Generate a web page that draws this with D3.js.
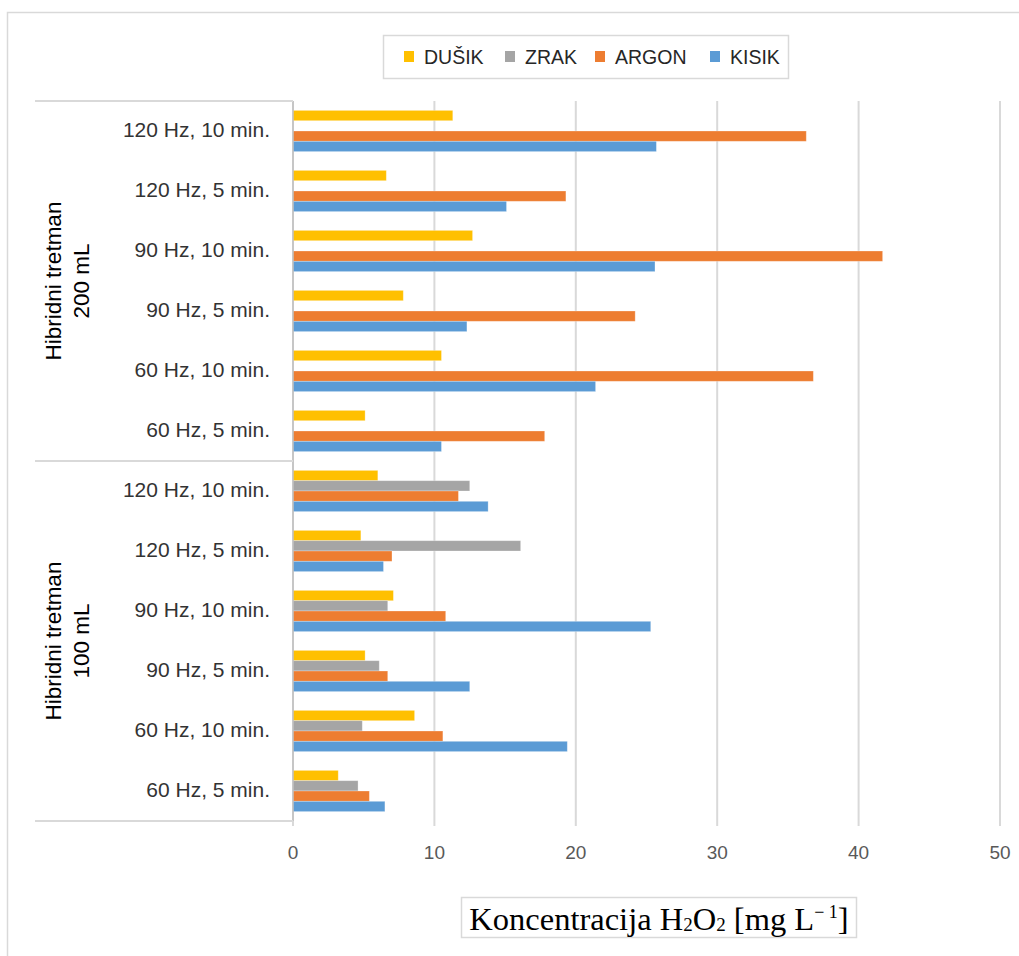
<!DOCTYPE html>
<html><head><meta charset="utf-8">
<script src="https://cdn.jsdelivr.net/npm/d3@7/dist/d3.min.js"></script>
<style>body{margin:0;background:#fff}svg{display:block}</style>
</head><body>
<svg id="c" width="1019" height="956"></svg>
<script>
// Categories, top to bottom
const categories = [
  "200|120 Hz, 10 min.", "200|120 Hz, 5 min.", "200|90 Hz, 10 min.", "200|90 Hz, 5 min.", "200|60 Hz, 10 min.", "200|60 Hz, 5 min.",
  "100|120 Hz, 10 min.", "100|120 Hz, 5 min.", "100|90 Hz, 10 min.", "100|90 Hz, 5 min.", "100|60 Hz, 10 min.", "100|60 Hz, 5 min."
];
const groups = [
  {key: "200", lines: ["Hibridni tretman", "200 mL"]},
  {key: "100", lines: ["Hibridni tretman", "100 mL"]}
];
const seriesNames = ["DUŠIK", "ZRAK", "ARGON", "KISIK"];
const colors = ["#FFC000", "#A5A5A5", "#ED7D31", "#5B9BD5"];
const dusik = [11.3, 6.6, 12.7, 7.8, 10.5, 5.1, 6.0, 4.8, 7.1, 5.1, 8.6, 3.2];
const zrak  = [null, null, null, null, null, null, 12.5, 16.1, 6.7, 6.1, 4.9, 4.6];
const argon = [36.3, 19.3, 41.7, 24.2, 36.8, 17.8, 11.7, 7.0, 10.8, 6.7, 10.6, 5.4];
const kisik = [25.7, 15.1, 25.6, 12.3, 21.4, 10.5, 13.8, 6.4, 25.3, 12.5, 19.4, 6.5];
const seriesValues = [dusik, zrak, argon, kisik];
const xTicks = [0, 10, 20, 30, 40, 50];
// axis title parts: [text, kind] kind: n normal, sub, sup
const axisTitle = [["Koncentracija H", "n"], ["2", "sub"], ["O", "n"], ["2", "sub"], [" [mg L", "n"], ["− 1", "sup"], ["]", "n"]];

const svg = d3.select("#c");
const grid = "#D9D9D9";
const sans = "'Liberation Sans', Arial, sans-serif";

// outer chart border
svg.append("path").attr("d", "M7.5,956 V12.5 H1019").attr("fill", "none").attr("stroke", grid).attr("stroke-width", 1.5);

const x = d3.scaleLinear().domain([0, 50]).range([293, 1000]);
const y = d3.scaleBand().domain(categories).range([101, 821]).paddingInner(0.313).paddingOuter(0.1565);
const ys = d3.scaleBand().domain(seriesNames).range([0, y.bandwidth()]);

// gridlines
svg.append("g").selectAll("line").data(xTicks).join("line")
  .attr("x1", d => x(d)).attr("x2", d => x(d)).attr("y1", 101).attr("y2", 826)
  .attr("stroke", grid).attr("stroke-width", 2);

// bars
seriesNames.forEach((s, si) => {
  const data = categories.map((c, i) => ({c, v: seriesValues[si][i]})).filter(d => d.v != null);
  svg.append("g").selectAll("rect").data(data).join("rect")
    .attr("x", x(0)).attr("y", d => y(d.c) + ys(s))
    .attr("width", d => x(d.v) - x(0)).attr("height", ys.bandwidth())
    .attr("fill", colors[si]).attr("stroke", "#fff").attr("stroke-opacity", 0.35).attr("stroke-width", 0.8);
});

// category axis line
svg.append("line").attr("x1", 293).attr("x2", 293).attr("y1", 101).attr("y2", 821).attr("stroke", "#BFBFBF").attr("stroke-width", 1.5);

// group separators
[101, 461, 821].forEach(v => svg.append("line").attr("x1", 35).attr("x2", 293).attr("y1", v).attr("y2", v).attr("stroke", grid).attr("stroke-width", 2));

// category labels
svg.append("g").selectAll("text").data(categories).join("text")
  .attr("x", 270).attr("y", d => y(d) + y.bandwidth() / 2)
  .attr("text-anchor", "end").attr("dominant-baseline", "middle")
  .attr("font-family", sans).attr("font-size", 21).attr("fill", "#333")
  .text(d => d.split("|")[1]);

// group labels
groups.forEach(g => {
  const cats = categories.filter(c => c.startsWith(g.key + "|"));
  const cy = (y(cats[0]) + y(cats[cats.length - 1]) + y.bandwidth()) / 2;
  const t = svg.append("text").attr("transform", `translate(68,${cy}) rotate(-90)`)
    .attr("text-anchor", "middle").attr("font-family", sans).attr("font-size", 22.5).attr("fill", "#000");
  g.lines.forEach((l, i) => t.append("tspan").attr("x", 0).attr("y", i === 0 ? -7 : 21).text(l));
});

// x tick labels
svg.append("g").selectAll("text").data(xTicks).join("text")
  .attr("x", d => x(d)).attr("y", 859).attr("text-anchor", "middle")
  .attr("font-family", sans).attr("font-size", 19).attr("fill", "#595959")
  .text(d => d);

// axis title box
svg.append("rect").attr("x", 461.5).attr("y", 897.5).attr("width", 395).attr("height", 40)
  .attr("fill", "#fff").attr("stroke", grid).attr("stroke-width", 1.5);
const tt = svg.append("text").attr("x", 659).attr("y", 930).attr("text-anchor", "middle")
  .attr("font-family", "'Liberation Serif', 'Times New Roman', serif").attr("font-size", 32.5).attr("fill", "#000");
let shift = 0;
axisTitle.forEach(([p, kind]) => {
  const ts = tt.append("tspan").text(p);
  const target = kind === "sub" ? 1 : kind === "sup" ? -12 : 0;
  if (kind !== "n") ts.attr("font-size", kind === "sub" ? 19 : 18);
  ts.attr("dy", target - shift);
  shift = target;
});

// legend
svg.append("rect").attr("x", 383.5).attr("y", 35.5).attr("width", 405).attr("height", 43)
  .attr("fill", "#fff").attr("stroke", grid).attr("stroke-width", 1.5);
const legX = [404, 505, 595, 710];
const lg = svg.append("g").selectAll("g").data(seriesNames).join("g")
  .attr("transform", (d, i) => `translate(${legX[i]},0)`);
lg.append("rect").attr("x", 0).attr("y", 51).attr("width", 10).attr("height", 11).attr("fill", (d, i) => colors[i]);
lg.append("text").attr("x", 20).attr("y", 64).attr("font-family", sans).attr("font-size", 19.5).attr("fill", "#262626").text(d => d);
</script>
</body></html>
